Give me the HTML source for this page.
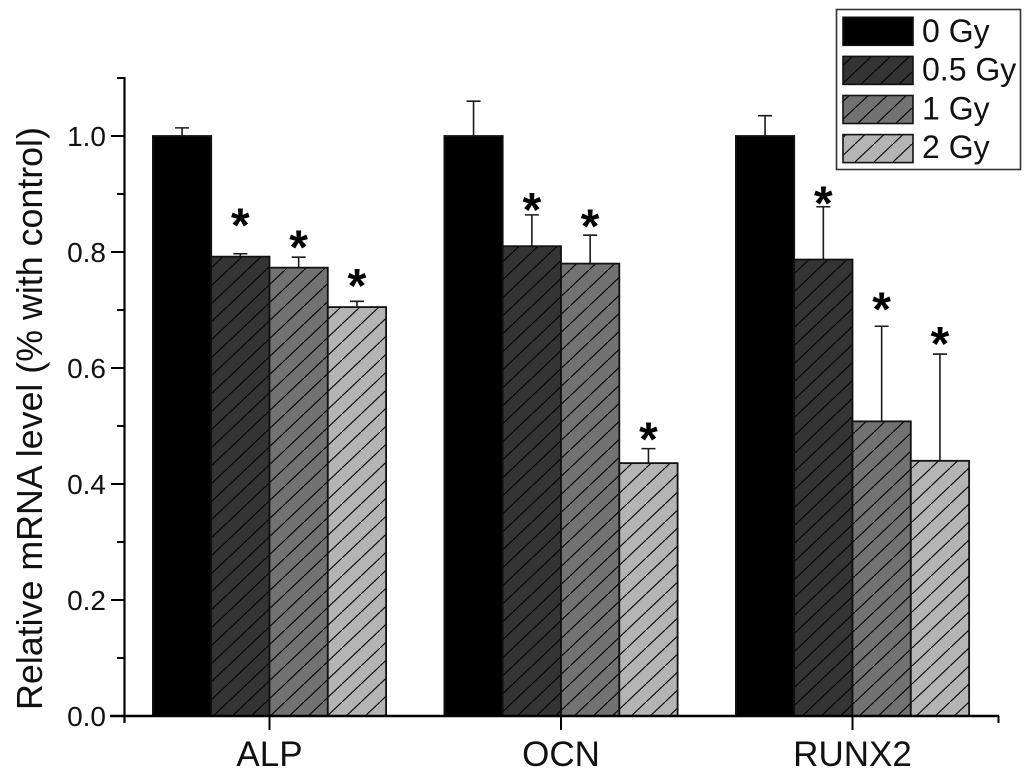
<!DOCTYPE html>
<html lang="en">
<head>
<meta charset="utf-8">
<title>Relative mRNA level by radiation dose</title>
<style>
html,body{margin:0;padding:0;background:#fff;}
svg{display:block;font-family:"Liberation Sans",sans-serif;filter:blur(0.35px);}
</style>
</head>
<body>
<svg id="chart" width="1033" height="778" viewBox="0 0 1033 778" xmlns="http://www.w3.org/2000/svg">
<defs>
<pattern id="hatch-dark" patternUnits="userSpaceOnUse" width="19" height="18">
<rect width="19" height="18" fill="#343434"/><path d="M-2 19.9L21 -1.9" stroke="#000" stroke-width="1.1"/>
</pattern>
<pattern id="hatch-mid" patternUnits="userSpaceOnUse" width="19" height="18">
<rect width="19" height="18" fill="#727272"/><path d="M-2 19.9L21 -1.9" stroke="#000" stroke-width="1.1"/>
</pattern>
<pattern id="hatch-light" patternUnits="userSpaceOnUse" width="19" height="18">
<rect width="19" height="18" fill="#b4b4b4"/><path d="M-2 19.9L21 -1.9" stroke="#000" stroke-width="1.1"/>
</pattern>
</defs>
<g id="plot"></g>
</svg>
<script>
const categories = ['ALP', 'OCN', 'RUNX2'];
const seriesNames = ['0 Gy', '0.5 Gy', '1 Gy', '2 Gy'];
const dose0 = [1.0, 1.0, 1.0];
const dose05 = [0.792, 0.81, 0.787];
const dose1 = [0.773, 0.78, 0.508];
const dose2 = [0.705, 0.436, 0.44];
const err0 = [0.014, 0.06, 0.035];
const err05 = [0.005, 0.054, 0.091];
const err1 = [0.018, 0.049, 0.164];
const err2 = [0.01, 0.025, 0.184];
const star05 = [0.857, 0.884, 0.895];
const star1 = [0.819, 0.855, 0.712];
const star2 = [0.753, 0.488, 0.653];
const yTicks = ['0.0', '0.2', '0.4', '0.6', '0.8', '1.0'];
const yMinorTicks = [0.1, 0.3, 0.5, 0.7, 0.9, 1.1];

const seriesValues = [dose0, dose05, dose1, dose2];
const seriesErrors = [err0, err05, err1, err2];
const seriesStars = [null, star05, star1, star2];
const fills = ['#000000', 'url(#hatch-dark)', 'url(#hatch-mid)', 'url(#hatch-light)'];

const NS = 'http://www.w3.org/2000/svg';
const plot = document.getElementById('plot');
const yScale = v => 716 - v * 580;
const xCenter = i => 269.5 + i * 291.5;
const BAR_W = 58.3;
const barX = (i, s) => xCenter(i) + (s - 2) * BAR_W;

function add(tag, attrs, text) {
  const el = document.createElementNS(NS, tag);
  for (const k in attrs) el.setAttribute(k, attrs[k]);
  if (text !== undefined) el.textContent = text;
  plot.appendChild(el);
  return el;
}
const slug = s => s.toLowerCase().replace(/[^a-z0-9]+/g, '-');

categories.forEach((cat, i) => {
  seriesValues.forEach((vals, s) => {
    const v = vals[i];
    const top = yScale(v);
    const cx = barX(i, s) + BAR_W / 2;
    const errTop = yScale(v + seriesErrors[s][i]);

    const errLine = add('path', {d: 'M' + cx + ' ' + top + 'V' + errTop + 'M' + (cx - 7) + ' ' + errTop + 'H' + (cx + 7), stroke: '#1a1a1a', 'stroke-width': 1.6, fill: 'none'});
    
    

    const bar = add('rect', {x: barX(i, s), y: top, width: BAR_W, height: yScale(0) - top, fill: fills[s], stroke: '#111', 'stroke-width': 1.8});
    
    

    if (seriesStars[s]) {
      const star = add('text', {x: cx, y: yScale(seriesStars[s][i]) + 22.6, 'text-anchor': 'middle', 'font-size': 48, 'font-weight': 'bold', fill: '#000'}, '*');
      
      
    }
  });
});

/* axes */
const yAxis = add('line', {x1: 124.5, x2: 124.5, y1: yScale(1.1) - 1, y2: 723, stroke: '#000', 'stroke-width': 2.2});



const xAxis = add('line', {x1: 110, x2: 999, y1: yScale(0), y2: yScale(0), stroke: '#000', 'stroke-width': 2.4});



const xAxisEnd = add('line', {x1: 998.5, x2: 998.5, y1: yScale(0), y2: 723, stroke: '#000', 'stroke-width': 2});



yTicks.forEach(t => {
  const y = yScale(parseFloat(t));
  const tick = add('line', {x1: 111, x2: 124, y1: y, y2: y, stroke: '#000', 'stroke-width': 2});
  
  
  const label = add('text', {x: 106, y: y + 10, 'text-anchor': 'end', 'font-size': 28, fill: '#111'}, t);
  
  
});

yMinorTicks.forEach(t => {
  const y = yScale(t);
  const tick = add('line', {x1: 117, x2: 124, y1: y, y2: y, stroke: '#000', 'stroke-width': 2});
  
  
});

categories.forEach((cat, i) => {
  const x = xCenter(i);
  const tick = add('line', {x1: x, x2: x, y1: yScale(0), y2: 730, stroke: '#000', 'stroke-width': 2});
  
  
  const label = add('text', {x: x, y: 766, 'text-anchor': 'middle', 'font-size': 35, fill: '#111'}, cat);
  
  
});

const yTitle = add('text', {transform: 'translate(42,418.5) rotate(-90)', 'text-anchor': 'middle', 'font-size': 35.8, fill: '#111'}, 'Relative mRNA level (% with control)');



/* legend */
const legendBox = add('rect', {x: 836.5, y: 9.5, width: 184, height: 160, fill: '#fff', stroke: '#333', 'stroke-width': 1.6});



seriesNames.forEach((name, s) => {
  const y = 17.3 + s * 39.1;
  const swatch = add('rect', {x: 843, y: y, width: 70, height: 28, fill: fills[s], stroke: '#111', 'stroke-width': 1.6});
  
  
  const label = add('text', {x: 922, y: 42 + s * 38.7, 'font-size': 32, fill: '#111'}, name);
  
  
});
</script>
</body>
</html>
